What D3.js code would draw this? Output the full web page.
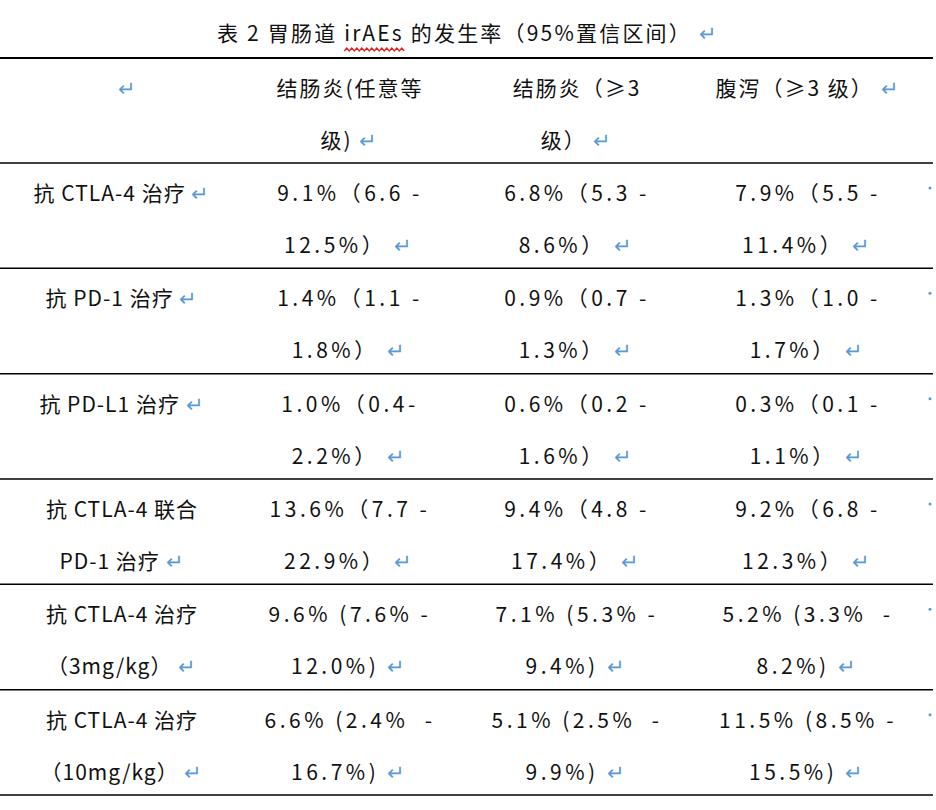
<!DOCTYPE html>
<html><head><meta charset="utf-8">
<script src="https://cdn.jsdelivr.net/npm/d3@7"></script>
<style>body{margin:0;background:#fff}</style>
</head><body><svg id="c" width="936" height="810"></svg>
<script>
const title = ["表 2 胃肠道 ", "irAEs", " 的发生率（95%置信区间）"];
const headers = [[""], ["结肠炎(任意等", "级)"], ["结肠炎（≥3", "级）"], ["腹泻（≥3 级）"]];
const rowLabels = [["抗 CTLA-4 治疗"], ["抗 PD-1 治疗"], ["抗 PD-L1 治疗"], ["抗 CTLA-4 联合", "PD-1 治疗"], ["抗 CTLA-4 治疗", "（3mg/kg）"], ["抗 CTLA-4 治疗", "（10mg/kg）"]];
const colitisAny = [["9.1%（6.6 -", "12.5%）"], ["1.4%（1.1 -", "1.8%）"], ["1.0%（0.4-", "2.2%）"], ["13.6%（7.7 -", "22.9%）"], ["9.6% (7.6% -", "12.0%)"], ["6.6% (2.4%  -", "16.7%)"]];
const colitis3 = [["6.8%（5.3 -", "8.6%）"], ["0.9%（0.7 -", "1.3%）"], ["0.6%（0.2 -", "1.6%）"], ["9.4%（4.8 -", "17.4%）"], ["7.1% (5.3% -", "9.4%)"], ["5.1% (2.5%  -", "9.9%)"]];
const diarrhea3 = [["7.9%（5.5 -", "11.4%）"], ["1.3%（1.0 -", "1.7%）"], ["0.3%（0.1 -", "1.1%）"], ["9.2%（6.8 -", "12.3%）"], ["5.2% (3.3%  -", "8.2%)"], ["11.5% (8.5% -", "15.5%)"]];

const svg = d3.select("#c");
const font = "'Noto Sans CJK SC', sans-serif";
const blue = "#5b9bd5";
const x = d3.scaleOrdinal().domain([0,1,2,3]).range([122, 350, 577, 808]);
const y = d3.scaleBand().domain(d3.range(6)).range([163, 795]).paddingInner(0);

// title
const t = svg.append("text").attr("x", 468).attr("y", 41).attr("text-anchor","middle")
  .attr("font-family", font).attr("font-size", 21).attr("fill","#111").attr("letter-spacing", 2.2).attr("xml:space","preserve");
const spans = title.map(s => t.append("tspan").text(s));
t.append("tspan").attr("fill", blue).text(" ↵");
const bb = spans[1].node().getBBox();
let wp = `M${bb.x},51`;
const n = Math.round(bb.width / 2.5);
for (let i = 0; i < n; i++) wp += ` l2.5,${i%2?3:-3}`;
svg.append("path").attr("d", wp).attr("fill","none").attr("stroke","#e02020").attr("stroke-width",1.3);

// horizontal lines
const ys = [58, 163].concat(d3.range(6).map(i => y(i) + y.bandwidth()));
svg.selectAll("line.h").data(ys).join("line")
  .attr("x1", 0).attr("x2", 933).attr("y1", d => d).attr("y2", d => d)
  .attr("stroke", "#000").attr("stroke-width", (d,i) => i === 0 ? 2 : 1.5);

function cell(lines, cx, top, ls) {
  lines.forEach((s, j) => {
    const tx = svg.append("text").attr("x", cx).attr("y", top + 38 + j * 52)
      .attr("text-anchor", "middle").attr("font-family", font).attr("font-size", 21)
      .attr("fill", "#111").attr("letter-spacing", ls).attr("xml:space","preserve");
    tx.append("tspan").text(s);
    if (j === lines.length - 1) tx.append("tspan").attr("fill", blue).text(s ? " ↵" : "↵");
  });
}
headers.forEach((h, c) => cell(h, c === 0 ? 128 : x(c), 58, 2));
const cols = [rowLabels, colitisAny, colitis3, diarrhea3];
cols.forEach((col, c) => col.forEach((v, r) => cell(v, x(c), y(r), c === 0 ? 1 : 3.5)));
// right-edge marks
svg.selectAll("circle.m").data(d3.range(6)).join("circle")
  .attr("cx", 930).attr("cy", r => y(r) + 25).attr("r", 1.5).attr("fill", blue);
</script></body></html>
